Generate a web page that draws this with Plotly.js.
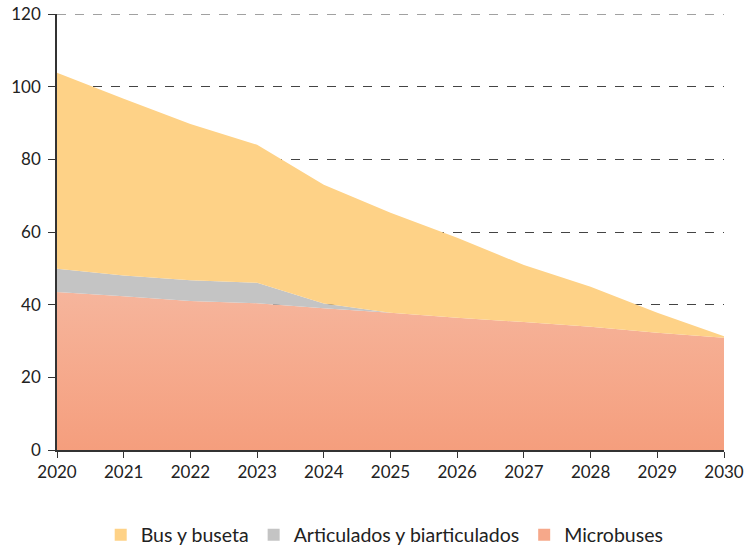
<!DOCTYPE html>
<html>
<head>
<meta charset="utf-8">
<script src="https://cdn.plot.ly/plotly-3.0.1.min.js"></script>
<style>body{margin:0;background:#fff}#chart{width:747px;height:547px}</style>
</head>
<body>
<div id="chart"></div>
<script>
const years = [2020, 2021, 2022, 2023, 2024, 2025, 2026, 2027, 2028, 2029, 2030];
const microbuses = [43.5, 42.3, 41.0, 40.4, 39.0, 37.8, 36.4, 35.2, 33.9, 32.3, 30.9];
const articulados = [6.4, 5.7, 5.7, 5.6, 1.3, 0, 0, 0, 0, 0, 0];
const busBuseta = [53.9, 48.7, 43.0, 38.0, 32.7, 27.5, 22.0, 15.7, 11.0, 5.5, 0.4];
const yTicks = [0, 20, 40, 60, 80, 100, 120];
const seriesNames = ['Microbuses', 'Articulados y biarticulados', 'Bus y buseta'];
const seriesColors = ['#F6A88A', '#C4C4C4', '#FED287'];

const fontFam = 'Lato, "Open Sans", sans-serif';

const traces = [
  {
    x: years, y: microbuses, name: seriesNames[0], type: 'scatter', mode: 'none',
    stackgroup: 'one', fillcolor: '#F6AC90', showlegend: false, legendgroup: 'm',
    fillgradient: {type: 'vertical', colorscale: [[0, '#F59E7D'], [1, '#F6B59C']]}
  },
  {
    x: years, y: articulados, name: seriesNames[1], type: 'scatter', mode: 'none',
    stackgroup: 'one', fillcolor: seriesColors[1], showlegend: false, legendgroup: 'a'
  },
  {
    x: years, y: busBuseta, name: seriesNames[2], type: 'scatter', mode: 'none',
    stackgroup: 'one', fillcolor: seriesColors[2], showlegend: false, legendgroup: 'b'
  }
];
// legend entries (square swatches)
['m', 'a', 'b'].forEach((g, i) => {
  traces.push({
    type: 'bar', x: [null], y: [null], name: seriesNames[i], legendgroup: g,
    marker: {color: seriesColors[i], line: {width: 0}}, hoverinfo: 'skip', showlegend: true
  });
});

const layout = {
  width: 747, height: 547,
  margin: {l: 57, r: 23, t: 14, b: 97},
  paper_bgcolor: '#fff', plot_bgcolor: '#fff',
  font: {family: fontFam, color: '#222', size: 15},
  showlegend: true,
  legend: {
    orientation: 'h', x: 0.515, xref: 'container', xanchor: 'center',
    y: 0.022, yref: 'container', yanchor: 'middle',
    traceorder: 'reversed', font: {size: 19.5, color: '#222'}, itemwidth: 30
  },
  shapes: [{
    type: 'line', xref: 'paper', x0: 0, x1: 1, yref: 'y', y0: yTicks[yTicks.length - 1], y1: yTicks[yTicks.length - 1],
    line: {color: '#444', width: 1, dash: 'dash'}, layer: 'below'
  }],
  xaxis: {
    range: [2020, 2030], tickmode: 'array', tickvals: years, ticktext: years.map(String),
    showgrid: false, zeroline: false, showline: true, linecolor: '#333', linewidth: 1.5,
    ticks: 'outside', ticklen: 6, tickcolor: '#333', tickfont: {size: 17}
  },
  yaxis: {
    range: [0, 120], tickmode: 'array', tickvals: yTicks,
    showgrid: true, gridcolor: '#444', griddash: 'dash', gridwidth: 1,
    zeroline: false, showline: true, linecolor: '#333', linewidth: 1.5,
    ticks: 'outside', ticklen: 7, tickcolor: '#333', tickfont: {size: 17},
    ticklabelstandoff: 4
  }
};

Plotly.newPlot('chart', traces, layout, {displayModeBar: false});
</script>
</body>
</html>
